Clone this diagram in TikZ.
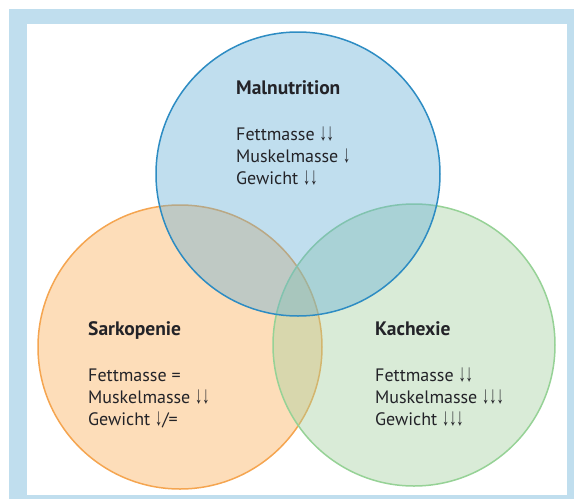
\documentclass[tikz,border=0pt]{standalone}
\usepackage{fontspec}
\setmainfont{PT Sans}
\newfontfamily\arrowfont{Liberation Sans}
\usepackage{graphicx}
\usepackage{xcolor}
\definecolor{framebg}{RGB}{192,222,238}
\definecolor{malblue}{RGB}{98,173,213}
\definecolor{malline}{RGB}{45,140,195}
\definecolor{sarkorange}{RGB}{250,172,82}
\definecolor{sarkline}{RGB}{245,165,80}
\definecolor{kachgreen}{RGB}{162,207,155}
\definecolor{kachline}{RGB}{150,210,150}
\definecolor{txtgray}{RGB}{35,35,40}
\usetikzlibrary{positioning}
\newcommand{\dn}{\raisebox{-0.5pt}{\scalebox{0.8}[1.35]{\arrowfont\char"2193}}}

\begin{document}
\begin{tikzpicture}[x=1pt,y=-1pt,
    ring/.style={line width=1.5pt, fill opacity=0.4},
    txt/.style={anchor=base west, inner sep=0pt, text=txtgray,
        text height=13pt, text depth=4pt,
        font=\fontsize{18}{22}\selectfont},
    ttl/.style={txt, font=\fontsize{19.5}{22}\selectfont\bfseries}]
    \useasboundingbox (0,0) rectangle (574,499);

    % Frame
    \fill[framebg] (9,9) rectangle (574,499);
    \fill[white] (27,24) rectangle (567,495);

    % Circles
    \filldraw[ring, fill=sarkorange, draw=sarkline] (180,347) circle (142);
    \filldraw[ring, fill=kachgreen, draw=kachline] (414,345) circle (141);
    \filldraw[ring, fill=malblue, draw=malline] (298,174) circle (142);

    % Malnutrition
    \node[ttl] (mal) at (236,94) {Malnutrition};
    \node[txt] (malfett) at (236,140) {Fettmasse \dn\dn};
    \node[txt] (malmusk) at (236,162) {Muskelmasse \dn};
    \node[txt] (malgew) at (236,184) {Gewicht \dn\dn};

    % Sarkopenie
    \node[ttl] (sark) at (88,335) {Sarkopenie};
    \node[txt] (sarkfett) at (88,381) {Fettmasse =};
    \node[txt] (sarkmusk) at (88,403) {Muskelmasse \dn\dn};
    \node[txt] (sarkgew) at (88,425) {Gewicht \dn/=};

    % Kachexie
    \node[ttl] (kach) at (375,335) {Kachexie};
    \node[txt] (kachfett) at (375,381) {Fettmasse \dn\dn};
    \node[txt] (kachmusk) at (375,403) {Muskelmasse \dn\dn\dn};
    \node[txt] (kachgew) at (375,425) {Gewicht \dn\dn\dn};
\end{tikzpicture}
\end{document}
